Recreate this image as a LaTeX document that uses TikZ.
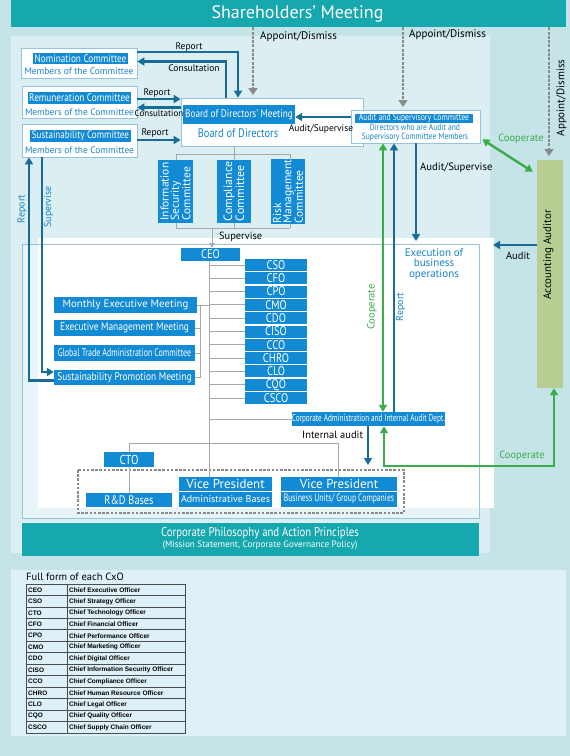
\documentclass[tikz,border=0pt]{standalone}
\usepackage{fontspec}
\setmainfont{PT Sans}
\newfontfamily\cond[FakeStretch=0.84]{PT Sans}
\newfontfamily\xcond[FakeStretch=0.72]{PT Sans}
\newfontfamily\tabfont{Liberation Sans}
\usetikzlibrary{arrows.meta}
\definecolor{bgbase}{RGB}{197,228,232}
\definecolor{panelc}{RGB}{219,239,242}
\definecolor{shteal}{RGB}{22,168,174}
\definecolor{lblue}{RGB}{18,138,212}
\definecolor{dblue}{RGB}{24,108,152}
\definecolor{cgreen}{RGB}{60,172,74}
\definecolor{audg}{RGB}{182,206,145}
\definecolor{glin}{RGB}{168,168,168}
\definecolor{dgray}{RGB}{138,138,138}
\definecolor{tabbg}{RGB}{222,241,249}
\definecolor{framec}{RGB}{150,196,224}
\definecolor{txtblue}{RGB}{22,132,204}
\definecolor{execbg}{RGB}{232,245,248}
\newcommand\fsz[2]{\fontsize{#1}{#2}\selectfont}
\begin{document}
\begin{tikzpicture}[x=1pt,y=-1pt,
  lbl/.style={fill=lblue, text=white, inner sep=0pt, font=\cond\fsz{11}{11}},
  wbox/.style={fill=white, draw=framec, line width=0.7pt, inner sep=0pt},
  mem/.style={text=txtblue, inner sep=0pt, font=\fsz{9.4}{10}},
  lab/.style={inner sep=0pt, font=\fsz{9.5}{10}},
  glab/.style={inner sep=0pt, text=cgreen, font=\fsz{10.5}{11}},
  blab/.style={inner sep=0pt, text=txtblue, font=\fsz{10}{10}},
  tip/.style={-{Triangle[width=8pt,length=7pt]}},
  barr/.style={draw=dblue, line width=2.4pt, tip},
  garr/.style={draw=cgreen, line width=2.4pt, {Triangle[width=8pt,length=7pt]}-{Triangle[width=8pt,length=7pt]}},
  darr/.style={draw=dgray, line width=2.4pt, dash pattern=on 3pt off 1.3pt, -{Triangle[width=9pt,length=7pt]}},
  gl/.style={draw=glin, line width=0.9pt},
  tabtxt/.style={inner sep=0pt, font=\tabfont\bfseries\fsz{6.5}{7}}
]
\useasboundingbox (0,0) rectangle (570,756);
% backgrounds
\fill[bgbase] (0,0) rectangle (570,756);
\fill[panelc] (11,36) rectangle (490,553);
\fill[execbg] (22,244) rectangle (479,518);
\fill[white] (38,238) rectangle (494,508);
\draw[framec, line width=0.8pt] (22,244) rectangle (479,518);
\fill[tabbg] (11,570) rectangle (566,736);

% shareholders
\node[fill=shteal, minimum width=555, minimum height=27, inner sep=0pt, text=white, font=\fsz{18}{20}] (sh) at (288.5,13.5) {\hspace*{18pt}Shareholders’ Meeting};

% corporate philosophy
\node[fill=shteal, minimum width=457, minimum height=33, inner sep=0pt] (phil) at (250.5,539.5) {};
\node[text=white, inner sep=0pt, align=center, font=\cond\fsz{12.8}{11}] (philtxt) at (260,538.5) {Corporate Philosophy and Action Principles\\{\normalfont\fsz{9.2}{9}(Mission Statement, Corporate Governance Policy)}};

% committee boxes (left)
\node[wbox, minimum width=116, minimum height=30] (nom) at (79,63) {};
\node[lbl, minimum width=95, minimum height=11] (nomlbl) at (80.5,58.5) {Nomination Committee};
\node[mem] (nommem) at (79,71) {Members of the Committee};
\node[wbox, minimum width=115, minimum height=32] (rem) at (79.5,102) {};
\node[lbl, minimum width=103, minimum height=12] (remlbl) at (79.5,98) {Remuneration Committee};
\node[mem] (remmem) at (79.5,112.5) {Members of the Committee};
\node[wbox, minimum width=115, minimum height=33] (sus) at (79.5,140.5) {};
\node[lbl, minimum width=101, minimum height=12, font=\cond\fsz{10.8}{11}] (suslbl) at (80.5,136) {Sustainability Committee};
\node[mem] (susmem) at (79.5,150) {Members of the Committee};

% board
\node[wbox, minimum width=182, minimum height=48] (board) at (272,122) {};
\node[lbl, minimum width=112, minimum height=19] (boardlbl) at (239,114.5) {Board of Directors’ Meeting};
\node[text=txtblue, inner sep=0pt, font=\cond\fsz{12.4}{12}] (boardtxt) at (238,133) {Board of Directors};

% audit & supervisory committee
\node[wbox, minimum width=129, minimum height=33] (audc) at (415.5,126.5) {};
\node[lbl, minimum width=118, minimum height=9, font=\cond\fsz{9.2}{9}] (audclbl) at (414,118) {Audit and Supervisory Committee};
\node[text=txtblue, inner sep=0pt, align=center, font=\cond\fsz{9}{9.3}] (audctxt) at (415,132.5) {Directors who are Audit and\\Supervisory Committee Members};

% accounting auditor
\node[fill=audg, minimum width=26, minimum height=228, inner sep=0pt] (auditor) at (550,274) {};
\node[rotate=90, inner sep=0pt, font=\fsz{11}{11}] (audtxt) at (548.5,255) {Accounting Auditor};

% committee bracket (gray)
\draw[gl] (board.south -| 234,0) -- (234,154);
\draw[gl] (176,154) -- (290,154);
\draw[gl] (176,154) -- (176,228) (234,154) -- (234,228) (290,154) -- (290,228);
\draw[gl] (176,228) -- (290,228);
\node[lbl, rotate=90, minimum width=63, minimum height=35, align=left, font=\fsz{11.5}{10.2}] (info) at (175.5,191.5) {Information\\Security\\Committee};
\node[lbl, rotate=90, minimum width=63, minimum height=34, align=left, font=\fsz{12}{10.5}] (comp) at (234,191.5) {Compliance\\Committee};
\node[lbl, rotate=90, minimum width=63, minimum height=34, align=left, font=\fsz{11.5}{10.2}] (risk) at (288,191.5) {Risk\\Management\\Committee};

% CEO
\node[lbl, minimum width=59, minimum height=13, font=\cond\fsz{12.5}{11}] (ceo) at (210.5,254.5) {CEO};
\draw[draw=glin, line width=0.9pt, -{Triangle[width=5pt,length=5pt]}] (212,228) -- (ceo.north -| 212,0);
\node[lab, anchor=west, font=\fsz{10.4}{10}] (supl) at (219,237) {Supervise};

% CxO column
\foreach \n [count=\i from 0] in {CSO,CFO,CPO,CMO,CDO,CISO,CCO,CHRO,CLO,CQO,CSCO} {
  \node[lbl, minimum width=62, minimum height=12, font=\cond\fsz{12.5}{11}] (x\i) at (276,{265+13.3*\i}) {\n};
  \draw[gl] (209,{265+13.3*\i}) -- (x\i.west);
}

% meetings
\node[lbl, minimum width=143, minimum height=16, font=\fsz{10.8}{11}] (monthly) at (125.5,305) {Monthly Executive Meeting};
\node[lbl, minimum width=141, minimum height=16, font=\cond\fsz{11.2}{11}] (execm) at (124.5,328) {Executive Management Meeting};
\node[lbl, minimum width=141, minimum height=16, font=\xcond\fsz{11}{11}] (global) at (124.5,353) {Global Trade Administration Committee};
\node[lbl, minimum width=141, minimum height=15, font=\cond\fsz{11.2}{11}] (susprom) at (124.5,377.5) {Sustainability Promotion Meeting};
\draw[gl] (monthly.east) -- (209,305);
\draw[gl] (200,305) -- (200,377.5);
\draw[gl] (execm.east) -- (200,328);
\draw[gl] (global.east) -- (200,353);
\draw[gl] (susprom.east) -- (200,377.5);

% corp admin
\node[lbl, minimum width=151, minimum height=14, font=\xcond\fsz{10}{10}] (corpadm) at (368.5,419) {Corporate Administration and Internal Audit Dept.};
\draw[gl] (209,419) -- (corpadm.west);

% bottom units
\node[lbl, minimum width=86, minimum height=14, font=\cond\fsz{12.3}{11}] (rd) at (129,500) {R\&D Bases};
\node[lbl, minimum width=93, minimum height=13.5, font=\fsz{13}{11}] (vpa) at (225.5,483.75) {Vice President};
\node[lbl, minimum width=93, minimum height=15.5, font=\fsz{10}{11}] (vpa2) at (225.5,499.25) {Administrative Bases};
\node[lbl, minimum width=116, minimum height=13.5, font=\fsz{13}{11}] (vpb) at (339,483.75) {Vice President};
\node[lbl, minimum width=116, minimum height=15.5, font=\xcond\fsz{10.7}{11}] (vpb2) at (339,499.25) {Business Units/ Group Companies};
\draw[dgray, line width=2.2pt, dash pattern=on 2.6pt off 1.6pt] (78,470) rectangle (404,513);
\node[lbl, minimum width=50, minimum height=15, font=\cond\fsz{13}{11}] (cto) at (129,459.5) {CTO};
\draw[gl] (ceo.south -| 209,0) -- (vpa.north -| 209,0);
\draw[gl] (129,443) -- (338,443);
\draw[gl] (129,443) -- (cto.north);
\draw[gl] (cto.south) -- (rd.north);
\draw[gl] (338,443) -- (vpb.north -| 338,0);

% appoint / dismiss
\coordinate (ad1) at (253,95);
\coordinate (ad2) at (403,107);
\coordinate (ad3) at (549,156);
\draw[darr] (sh.south -| ad1) -- (ad1);
\draw[darr] (sh.south -| ad2) -- (ad2);
\draw[darr] (sh.south -| ad3) -- (ad3);
\node[lab, anchor=west, font=\fsz{11}{10}] (adl1) at (260,37) {Appoint/Dismiss};
\node[lab, anchor=west, font=\fsz{11}{10}] (adl2) at (409,34.5) {Appoint/Dismiss};
\node[lab, rotate=90, font=\fsz{11}{10}] (adl3) at (561.5,98) {Appoint/Dismiss};

% report / consultation arrows
\draw[barr] (nom.east |- 0,52) -- (238,52) -- (board.north -| 238,0);
\draw[barr] (board.north -| 226,0) -- (226,61.5) -- (nom.east |- 0,61.5);
\node[lab] (l1) at (189,47) {Report};
\node[lab] (l2) at (194,68) {Consultation};
\draw[barr] (rem.east |- 0,99) -- (board.west |- 0,99);
\draw[barr] (board.west |- 0,107.5) -- (rem.east |- 0,107.5);
\node[lab] (l3) at (157,93) {Report};
\node[lab, font=\fsz{9}{9}] (l4) at (159,113) {Consultation};
\draw[barr] (sus.east |- 0,140) -- (board.west |- 0,140);
\node[lab] (l5) at (155,133) {Report};

% audit/supervise to board
\draw[barr] (audc.west |- 0,117) -- (boardlbl.east |- 0,117);
\node[lab] (l6) at (321,129) {Audit/Supervise};

% left report / supervise loop
\draw[barr] (susprom.west |- 0,380.5) -- (29,380.5) -- (sus.south -| 29,0);
\draw[barr] (sus.south -| 42,0) -- (42,372) -- (susprom.west |- 0,372);
\node[blab, rotate=90] (l7) at (22,209) {Report};
\node[blab, rotate=90] (l8) at (48.5,207) {Supervise};

% audit/supervise down to execution
\coordinate (exectop) at (416,241);
\draw[barr] (audc.south -| exectop) -- (exectop);
\node[lab, anchor=west, font=\fsz{10.7}{10}] (l9) at (420,168) {Audit/Supervise};
\node[text=txtblue, inner sep=0pt, align=center, font=\fsz{11}{10.5}] (exec) at (434,264) {Execution of\\business\\operations};

% audit from auditor
\coordinate (auditend) at (493,245);
\draw[barr] (auditor.west |- auditend) -- (auditend);
\node[lab, font=\fsz{10.5}{10}] (l10) at (518,255.5) {Audit};

% cooperate diagonal
\draw[garr] ([shift={(2,-4)}]audc.south east) -- ([shift={(-4,12)}]auditor.north west);
\node[glab] (l11) at (521,139) {Cooperate};

% vertical cooperate / report between audit committee and corp admin
\draw[garr] (corpadm.north -| 383,0) -- (audc.south -| 383,0);
\draw[barr] (corpadm.north -| 394,0) -- (audc.south -| 394,0);
\node[glab, rotate=90] (l12) at (372,307) {Cooperate};
\node[blab, rotate=90] (l13) at (400.5,307) {Report};

% internal audit
\coordinate (iaend) at (368,465);
\draw[barr] (corpadm.south -| iaend) -- (iaend);
\node[lab, anchor=west, font=\fsz{10.5}{10}] (l14) at (302,434.5) {Internal audit};

% cooperate bottom loop
\draw[garr] (corpadm.south -| 384,0) -- (384,466) -- (554,466) -- (auditor.south -| 554,0);
\node[glab] (l15) at (522,456) {Cooperate};

% table
\node[anchor=west, inner sep=0pt, font=\fsz{10.5}{11}] (fullform) at (26,577) {Full form of each CxO};
\foreach \a/\b [count=\i from 0] in {CEO/Chief Executive Officer, CSO/Chief Strategy Officer, CTO/Chief Technology Officer, CFO/Chief Financial Officer, CPO/Chief Performance Officer, CMO/Chief Marketing Officer, CDO/Chief Digital Officer, CISO/Chief Information Security Officer, CCO/Chief Compliance Officer, CHRO/Chief Human Resource Officer, CLO/Chief Legal Officer, CQO/Chief Quality Officer, CSCO/Chief Supply Chain Officer} {
  \node[tabtxt, anchor=west] (ta\i) at (28,{584+11.46*\i+5.9}) {\a};
  \node[tabtxt, anchor=west] (tb\i) at (69,{584+11.46*\i+5.9}) {\b};
}
\draw[draw=black!70, line width=0.7pt] (26,584) rectangle (185,733);
\draw[draw=black!70, line width=0.7pt] (67,584) -- (67,733);
\foreach \i in {1,...,12} \draw[draw=black!70, line width=0.7pt] (26,{584+11.46*\i}) -- (185,{584+11.46*\i});
\end{tikzpicture}
\end{document}
